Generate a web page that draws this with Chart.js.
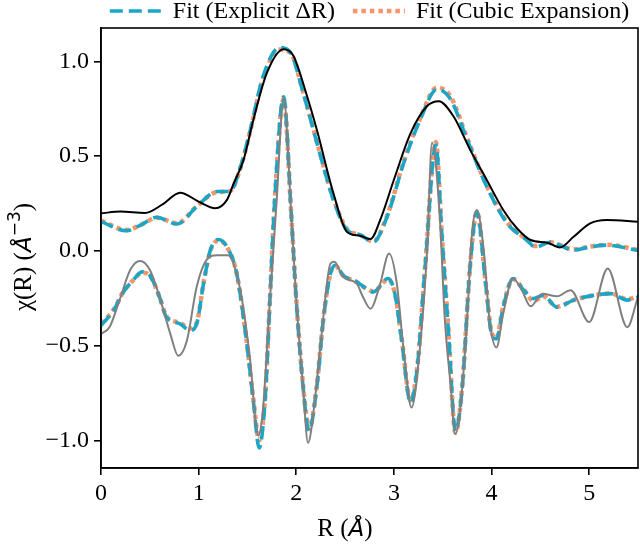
<!DOCTYPE html>
<html lang="en">
<head>
<meta charset="UTF-8">
<title>chi(R) fits</title>
<script src="https://cdn.jsdelivr.net/npm/chart.js"></script>
<style>
    body { margin: 0; background: #fff; }
    .chart-container { position: relative; width: 640px; height: 544px; }
</style>
</head>
<body>
<div class="chart-container"><canvas id="chiChart"></canvas></div>
<script>
// values
const magR = [0, 0.2, 0.45, 0.63, 0.81, 1.0, 1.17, 1.29, 1.36, 1.46, 1.56, 1.70, 1.87, 1.97, 2.11, 2.21, 2.38, 2.52, 2.65, 2.76, 2.86, 3.0, 3.17, 3.34, 3.46, 3.61, 3.78, 3.95, 4.12, 4.26, 4.40, 4.57, 4.70, 4.84, 5.01, 5.18, 5.5];
const magData = [0.198, 0.207, 0.20, 0.245, 0.307, 0.26, 0.225, 0.269, 0.357, 0.48, 0.69, 0.94, 1.064, 1.03, 0.817, 0.64, 0.305, 0.10, 0.08, 0.062, 0.163, 0.375, 0.62, 0.764, 0.79, 0.71, 0.534, 0.375, 0.216, 0.119, 0.057, 0.043, 0.018, 0.074, 0.145, 0.163, 0.154];

const reR = [0, 0.09, 0.19, 0.30, 0.40, 0.50, 0.60, 0.71, 0.79, 0.88, 0.98, 1.08, 1.19, 1.30, 1.42, 1.52, 1.61, 1.66, 1.73, 1.80, 1.87, 1.95, 2.0, 2.07, 2.12, 2.19, 2.26, 2.35, 2.39, 2.48, 2.62, 2.68, 2.76, 2.86, 2.95, 3.03, 3.10, 3.18, 3.27, 3.34, 3.39, 3.47, 3.52, 3.58, 3.63, 3.70, 3.75, 3.80, 3.85, 3.92, 3.98, 4.05, 4.12, 4.22, 4.31, 4.40, 4.52, 4.67, 4.81, 5.00, 5.19, 5.39, 5.5];
const reData = [-0.438, -0.40, -0.26, -0.10, -0.053, -0.10, -0.244, -0.438, -0.553, -0.473, -0.19, -0.049, -0.023, -0.023, -0.19, -0.54, -0.975, -0.83, -0.26, 0.27, 0.81, 0.18, -0.26, -0.72, -1.013, -0.79, -0.438, -0.067, -0.058, -0.138, -0.173, -0.24, -0.305, -0.173, -0.014, -0.173, -0.527, -0.827, -0.49, 0.004, 0.57, 0.18, -0.35, -0.703, -0.968, -0.72, -0.35, 0.092, 0.216, 0.004, -0.367, -0.51, -0.33, -0.146, -0.208, -0.293, -0.226, -0.24, -0.208, -0.376, -0.093, -0.403, -0.244];

const fitMagR = [0, 0.26, 0.42, 0.57, 0.78, 0.98, 1.19, 1.32, 1.43, 1.53, 1.66, 1.83, 1.94, 2.07, 2.24, 2.38, 2.52, 2.65, 2.79, 2.93, 3.1, 3.27, 3.44, 3.58, 3.75, 3.95, 4.16, 4.36, 4.45, 4.60, 4.84, 5.0, 5.18, 5.5];
const fitMagExplicit = [0.154, 0.106, 0.14, 0.177, 0.142, 0.233, 0.313, 0.313, 0.445, 0.64, 0.92, 1.073, 1.047, 0.835, 0.516, 0.269, 0.11, 0.085, 0.048, 0.18, 0.463, 0.693, 0.852, 0.80, 0.587, 0.34, 0.145, 0.057, 0.02, 0.045, 0.004, 0.02, 0.03, 0.002];
const fitMagCubic = [0.16, 0.11, 0.14, 0.175, 0.145, 0.235, 0.31, 0.315, 0.44, 0.635, 0.91, 1.062, 1.045, 0.84, 0.52, 0.275, 0.115, 0.085, 0.05, 0.185, 0.47, 0.70, 0.862, 0.815, 0.595, 0.345, 0.15, 0.06, 0.025, 0.045, 0.008, 0.022, 0.032, 0.005];

const fitReR = [0, 0.13, 0.23, 0.33, 0.42, 0.50, 0.60, 0.67, 0.81, 0.91, 0.98, 1.05, 1.12, 1.20, 1.29, 1.39, 1.49, 1.56, 1.62, 1.68, 1.73, 1.78, 1.87, 1.95, 2.0, 2.07, 2.13, 2.21, 2.28, 2.35, 2.40, 2.48, 2.62, 2.72, 2.79, 2.94, 3.01, 3.08, 3.17, 3.24, 3.32, 3.43, 3.49, 3.56, 3.63, 3.70, 3.78, 3.85, 3.94, 4.0, 4.05, 4.12, 4.22, 4.33, 4.43, 4.53, 4.67, 4.84, 5.04, 5.22, 5.39, 5.5];
const fitReExplicit = [-0.394, -0.314, -0.217, -0.155, -0.111, -0.129, -0.244, -0.35, -0.385, -0.42, -0.385, -0.173, 0.004, 0.06, 0.021, -0.12, -0.473, -0.79, -1.04, -0.79, -0.26, 0.27, 0.813, 0.18, -0.26, -0.72, -0.95, -0.72, -0.35, -0.12, -0.076, -0.129, -0.164, -0.2, -0.217, -0.146, -0.226, -0.473, -0.80, -0.615, -0.085, 0.56, 0.092, -0.438, -0.95, -0.72, -0.085, 0.207, -0.173, -0.438, -0.465, -0.297, -0.146, -0.208, -0.252, -0.235, -0.297, -0.26, -0.235, -0.226, -0.26, -0.244];
const fitReCubic = [-0.385, -0.31, -0.215, -0.155, -0.115, -0.13, -0.245, -0.345, -0.38, -0.41, -0.38, -0.17, 0.0, 0.055, 0.02, -0.12, -0.47, -0.78, -1.0, -0.78, -0.255, 0.27, 0.80, 0.18, -0.255, -0.71, -0.94, -0.71, -0.345, -0.12, -0.08, -0.13, -0.165, -0.2, -0.215, -0.15, -0.225, -0.465, -0.79, -0.61, -0.08, 0.575, 0.095, -0.43, -0.96, -0.71, -0.08, 0.205, -0.17, -0.43, -0.46, -0.29, -0.15, -0.205, -0.265, -0.24, -0.295, -0.26, -0.235, -0.225, -0.255, -0.24];

const xTicks = [0, 1, 2, 3, 4, 5];
const yTicks = [-1.0, -0.5, 0.0, 0.5, 1.0];
const legendLabels = ['Fit (Explicit \u0394R)', 'Fit (Cubic Expansion)'];

const SERIF = '"Liberation Serif", "Times New Roman", serif';
const CYAN = '#1ba6c6';
const ORANGE = '#f7946a';

function pts(xs, ys) {
    return xs.map((x, i) => ({ x: x, y: ys[i] }));
}

function lineSet(data, color, width, dash, legend) {
    return {
        data: data,
        borderColor: color,
        borderWidth: width,
        borderDash: dash,
        borderCapStyle: 'butt',
        pointRadius: 0,
        fill: false,
        cubicInterpolationMode: 'monotone',
        legendText: legend
    };
}

// frame, legend and axis titles drawn on top
const decorations = {
    id: 'decorations',
    afterDraw(chart) {
        const ctx = chart.ctx;
        const a = chart.chartArea;
        ctx.save();
        ctx.strokeStyle = '#000';
        ctx.lineWidth = 1.6;
        ctx.strokeRect(a.left, a.top, a.right - a.left, a.bottom - a.top);

        // legend
        ctx.font = '24px ' + SERIF;
        const lineLen = 52, gapText = 11, gapItem = 18;
        const items = chart.data.datasets.filter(d => d.legendText);
        let total = 0;
        items.forEach((d, i) => {
            total += lineLen + gapText + ctx.measureText(d.legendText).width;
            if (i > 0) total += gapItem;
        });
        let x = (a.left + a.right) / 2 - total / 2;
        const ly = 11;
        items.forEach(d => {
            ctx.beginPath();
            ctx.strokeStyle = d.borderColor;
            ctx.lineWidth = d.borderWidth;
            ctx.setLineDash(d.borderDash);
            ctx.moveTo(x, ly);
            ctx.lineTo(x + lineLen, ly);
            ctx.stroke();
            ctx.setLineDash([]);
            x += lineLen + gapText;
            ctx.fillStyle = '#000';
            ctx.textBaseline = 'middle';
            ctx.textAlign = 'left';
            ctx.fillText(d.legendText, x, ly + 1);
            x += ctx.measureText(d.legendText).width + gapItem;
        });

        // axis titles with a sans italic angstrom
        const parts = (list) => {
            let w = 0;
            list.forEach(p => { ctx.font = p.font; p.w = ctx.measureText(p.text).width; w += p.w; });
            return w;
        };
        const put = (list, cx, baseY) => {
            let px = cx - parts(list) / 2;
            ctx.textBaseline = 'alphabetic';
            ctx.textAlign = 'left';
            ctx.fillStyle = '#000';
            list.forEach(p => {
                ctx.font = p.font;
                ctx.fillText(p.text, px, baseY + (p.dy || 0));
                px += p.w;
            });
        };
        const serif = '25px ' + SERIF;
        const ang = 'italic 23px "DejaVu Sans"';
        put([
            { text: 'R (', font: serif },
            { text: '\u00c5', font: ang },
            { text: ')', font: serif }
        ], 345, 536);

        ctx.save();
        ctx.translate(31, 257);
        ctx.rotate(-Math.PI / 2);
        put([
            { text: '\u03c7(R) (', font: serif },
            { text: '\u00c5', font: ang },
            { text: '\u2212', font: '17px "DejaVu Sans"', dy: -11 },
            { text: '3', font: '17px "DejaVu Sans"', dy: -11 },
            { text: ')', font: serif }
        ], 0, 0);
        ctx.restore();
        ctx.restore();
    }
};

const ctx = document.getElementById('chiChart').getContext('2d');
const chart = new Chart(ctx, {
    type: 'line',
    data: {
        datasets: [
            lineSet(pts(magR, magData), '#000000', 2, [], null),
            lineSet(pts(reR, reData), '#808080', 2, [], null),
            lineSet(pts(fitMagR, fitMagExplicit), CYAN, 3.6, [13, 6], legendLabels[0]),
            lineSet(pts(fitReR, fitReExplicit), CYAN, 3.6, [13, 6], null),
            lineSet(pts(fitMagR, fitMagCubic), ORANGE, 4.5, [4.5, 4], legendLabels[1]),
            lineSet(pts(fitReR, fitReCubic), ORANGE, 4.5, [4.5, 4], null)
        ]
    },
    options: {
        responsive: true,
        maintainAspectRatio: false,
        animation: false,
        events: [],
        layout: { padding: { top: 28, right: 2, left: 0, bottom: 0 } },
        plugins: {
            legend: { display: false },
            tooltip: { enabled: false }
        },
        scales: {
            x: {
                type: 'linear',
                min: 0,
                max: 5.5,
                afterBuildTicks: (s) => { s.ticks = xTicks.map(v => ({ value: v })); },
                afterFit: (s) => { s.height = 76; },
                border: { color: '#000', width: 1.6 },
                grid: { drawOnChartArea: false, drawTicks: true, tickLength: 7, color: '#000', lineWidth: 1.6 },
                ticks: {
                    color: '#000',
                    font: { family: SERIF, size: 24 },
                    padding: 4,
                    maxRotation: 0,
                    callback: (v) => String(v)
                }
            },
            y: {
                min: -1.146,
                max: 1.176,
                afterBuildTicks: (s) => { s.ticks = yTicks.map(v => ({ value: v })); },
                afterFit: (s) => { s.width = 101; },
                border: { color: '#000', width: 1.6 },
                grid: { drawOnChartArea: false, drawTicks: true, tickLength: 7, color: '#000', lineWidth: 1.6 },
                ticks: {
                    color: '#000',
                    font: { family: SERIF, size: 24 },
                    padding: 5,
                    callback: (v) => (v < 0 ? '\u2212' : '') + Math.abs(v).toFixed(1)
                }
            }
        }
    },
    plugins: [decorations]
});
</script>
</body>
</html>
